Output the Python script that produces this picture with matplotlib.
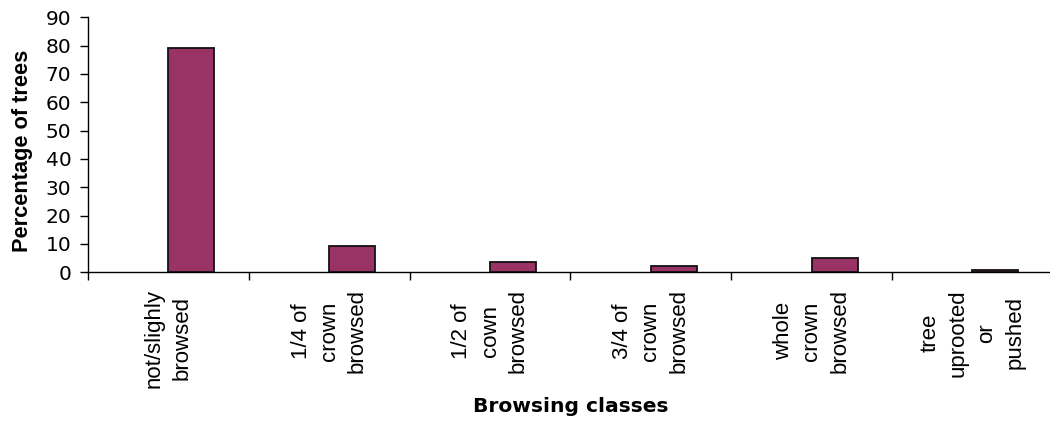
import matplotlib
matplotlib.use("Agg")
import matplotlib.pyplot as plt
import numpy as np

# Browsing damage classes and share of trees in each (%)
categories = [
    "not/slighly\nbrowsed",
    "1/4 of\ncrown\nbrowsed",
    "1/2 of\ncown\nbrowsed",
    "3/4 of\ncrown\nbrowsed",
    "whole\ncrown\nbrowsed",
    "tree\nuprooted\nor\npushed",
]
percentages = [79.1, 9.3, 3.6, 2.3, 5.0, 0.8]
y_ticks = [0, 10, 20, 30, 40, 50, 60, 70, 80, 90]

bar_color = "#993366"

fig = plt.figure(figsize=(10.5, 4.21), dpi=100)
ax = fig.add_axes([0.0838, 0.3532, 0.9189, 0.6057])

# Clustered-column layout: two series slots per category, bars drawn in the second
n_slots = 2
gap = 1.5
w = 1.0 / (n_slots + gap)
x = np.arange(len(categories))
centers = x + gap / 2 * w + 1.5 * w
ax.bar(centers, percentages, width=w, color=bar_color,
       edgecolor="#111111", linewidth=1.3, zorder=3)

ax.set_xlim(0, len(categories))
ax.set_ylim(0, 90)

# Y axis
ax.set_yticks(y_ticks)
ax.set_yticklabels([str(t) for t in y_ticks], fontfamily="DejaVu Sans", fontsize=14.5)
ax.tick_params(axis="y", direction="out", length=6, width=1, pad=6, colors="black")

# X axis: boundary ticks, category names between them
ax.set_xticks(np.arange(len(categories) + 1))
ax.set_xticklabels([])
ax.tick_params(axis="x", which="major", direction="out", length=6, width=1)
ax.set_xticks(x + 0.5, minor=True)
ax.set_xticklabels(categories, minor=True, rotation=90, fontfamily="Liberation Sans",
                   fontsize=16, linespacing=1.45, multialignment="center")
ax.tick_params(axis="x", which="minor", length=0, pad=12)

for side in ("top", "right"):
    ax.spines[side].set_visible(False)
for side in ("left", "bottom"):
    ax.spines[side].set_color("black")
    ax.spines[side].set_linewidth(1)

fig.text(23 / 1050, (421 - 151) / 421, "Percentage of trees", rotation=90,
         ha="center", va="center", fontfamily="Liberation Sans",
         fontweight="bold", fontsize=15.7)
fig.text(570.5 / 1050, (421 - 412) / 421, "Browsing classes", ha="center",
         va="baseline", fontfamily="DejaVu Sans", fontweight="bold", fontsize=14.6)

fig.savefig("out.png", dpi=100)
